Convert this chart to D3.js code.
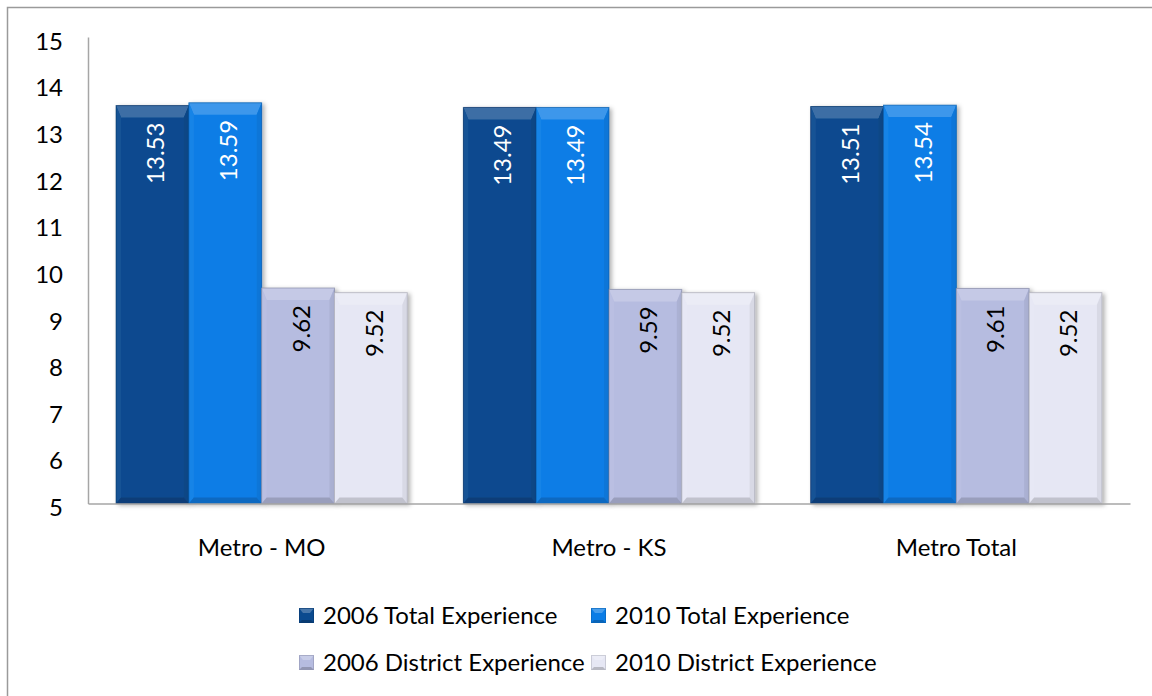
<!DOCTYPE html>
<html>
<head>
<meta charset="utf-8">
<script src="https://cdn.jsdelivr.net/npm/d3@7"></script>
<style>
  html, body { margin: 0; padding: 0; background: #fff; }
  svg { display: block; }
  text { font-family: Lato, "Open Sans", sans-serif; fill: #000; }
</style>
</head>
<body>
<svg id="chart" width="1152" height="696"></svg>
<script>
// Average years of experience by region
const categories = ["Metro - MO", "Metro - KS", "Metro Total"];
const seriesNames = ["2006 Total Experience", "2010 Total Experience", "2006 District Experience", "2010 District Experience"];
const total2006 = [13.53, 13.49, 13.51];
const total2010 = [13.59, 13.49, 13.54];
const district2006 = [9.62, 9.59, 9.61];
const district2010 = [9.52, 9.52, 9.52];
const yTicks = [5, 6, 7, 8, 9, 10, 11, 12, 13, 14, 15];

const seriesValues = [total2006, total2010, district2006, district2010];
const seriesColors = ["#0B4A8F", "#0B7DE6", "#B6BCE0", "#E6E7F4"];
const labelColors = ["#ffffff", "#ffffff", "#000000", "#000000"];

const W = 1152, H = 696;
const plot = { left: 88, right: 1130, top: 37, bottom: 503.5 };
const fs = 24;

const svg = d3.select("#chart");

// soft drop shadow for the bevelled bars
const defs = svg.append("defs");
const shadow = defs.append("filter").attr("id", "barShadow")
  .attr("x", "-10%").attr("y", "-10%").attr("width", "130%").attr("height", "130%");
shadow.append("feDropShadow").attr("dx", 2.5).attr("dy", 1.5)
  .attr("stdDeviation", 2).attr("flood-color", "#000").attr("flood-opacity", 0.3);

// chart frame
svg.append("rect").attr("x", 7.5).attr("y", 7.5).attr("width", W + 20).attr("height", H + 20)
  .attr("fill", "#fff").attr("stroke", "#9a9a9a").attr("stroke-width", 1.5);

const y = d3.scaleLinear().domain([5, 15]).range([plot.bottom, plot.top]);
const x0 = d3.scaleBand().domain(categories).range([plot.left, plot.right]).padding(0);
const x1 = d3.scaleBand().domain(seriesNames).range([0, x0.bandwidth()])
  .paddingInner(0).paddingOuter(0.385);

// y axis
const yAxis = svg.append("g").attr("transform", `translate(${plot.left},0)`)
  .call(d3.axisLeft(y).tickValues(yTicks).tickSize(0).tickSizeOuter(0).tickPadding(25));
yAxis.select(".domain").attr("stroke", "#a6a6a6").attr("stroke-width", 1.5);
yAxis.selectAll("text").attr("font-size", fs).attr("dy", null)
  .attr("y", 3.5 + 0.36 * fs).attr("font-family", "Lato").attr("fill", "#000");

// bars
const groups = svg.append("g").selectAll("g").data(categories).join("g")
  .attr("transform", d => `translate(${x0(d)},0)`);

function bevelBar(g, bx, by, bw, bh, color) {
  const base = d3.color(color);
  const light = d3.interpolateRgb(color, "#ffffff")(0.2);
  const lightSide = d3.interpolateRgb(color, "#ffffff")(0.05);
  const dark = d3.interpolateRgb(color, "#000000")(0.16);
  const darkSide = d3.interpolateRgb(color, "#000000")(0.06);
  const edge = d3.interpolateRgb(color, "#000000")(0.3);
  const t = 12, s = 5, b = 6;
  const x2 = bx + bw, y2 = by + bh;
  const bar = g.append("g").attr("filter", "url(#barShadow)");
  bar.append("rect").attr("x", bx).attr("y", by).attr("width", bw).attr("height", bh)
    .attr("fill", base.formatHex());
  const poly = (pts, fill) => bar.append("polygon")
    .attr("points", pts.map(p => p.join(",")).join(" ")).attr("fill", fill);
  poly([[bx, by], [x2, by], [x2 - s, by + t], [bx + s, by + t]], light);
  poly([[bx, by], [bx + s, by + t], [bx + s, y2 - b], [bx, y2]], lightSide);
  poly([[x2, by], [x2, y2], [x2 - s, y2 - b], [x2 - s, by + t]], darkSide);
  poly([[bx, y2], [bx + s, y2 - b], [x2 - s, y2 - b], [x2, y2]], dark);
  bar.append("rect").attr("x", bx).attr("y", by).attr("width", bw).attr("height", bh)
    .attr("fill", "none").attr("stroke", edge).attr("stroke-width", 1).attr("stroke-opacity", 0.6);
}

groups.each(function (cat, ci) {
  const g = d3.select(this);
  seriesNames.forEach((name, si) => {
    const v = seriesValues[si][ci];
    const bx = x1(name), bw = x1.bandwidth();
    const by = y(v), bh = y(5) - y(v);
    bevelBar(g, bx, by, bw, bh, seriesColors[si]);
    g.append("text")
      .attr("transform", `translate(${bx + bw / 2 + 3 + 0.36 * fs},${by + 17}) rotate(-90)`)
      .attr("text-anchor", "end")
      .attr("font-size", fs)
      .style("fill", labelColors[si])
      .text(v.toFixed(2));
  });
});

// x axis
const xAxis = svg.append("g").attr("transform", `translate(0,${plot.bottom})`)
  .call(d3.axisBottom(x0).tickSize(0).tickSizeOuter(0));
xAxis.select(".domain").attr("stroke", "#a6a6a6").attr("stroke-width", 1.5);
xAxis.selectAll("text").attr("font-size", fs).attr("dy", null).attr("y", 556 - plot.bottom)
  .attr("font-family", "Lato").attr("fill", "#000");

// legend
const legendItems = [
  { name: seriesNames[0], color: seriesColors[0], x: 299, y: 624 },
  { name: seriesNames[1], color: seriesColors[1], x: 591, y: 624 },
  { name: seriesNames[2], color: seriesColors[2], x: 299, y: 671 },
  { name: seriesNames[3], color: seriesColors[3], x: 591, y: 671 }
];
const legend = svg.append("g").selectAll("g").data(legendItems).join("g")
  .attr("transform", d => `translate(${d.x},${d.y})`);
function bevelSwatch(g, color) {
  const sz = 15, yTop = -16;
  const light = d3.interpolateRgb(color, "#ffffff")(0.25);
  const dark = d3.interpolateRgb(color, "#000000")(0.2);
  g.append("rect").attr("x", 0).attr("y", yTop).attr("width", sz).attr("height", sz).attr("fill", color);
  g.append("polygon").attr("points", `0,${yTop} ${sz},${yTop} ${sz - 4},${yTop + 5} 4,${yTop + 5}`).attr("fill", light);
  g.append("polygon").attr("points", `0,${yTop + sz} 3,${yTop + sz - 3} ${sz - 3},${yTop + sz - 3} ${sz},${yTop + sz}`).attr("fill", dark);
  g.append("rect").attr("x", 0.5).attr("y", yTop + 0.5).attr("width", sz - 1).attr("height", sz - 1)
    .attr("fill", "none").attr("stroke", dark).attr("stroke-width", 1).attr("stroke-opacity", 0.6);
}
legend.each(function (d) {
  bevelSwatch(d3.select(this), d.color);
});
legend.append("text").attr("x", 24).attr("y", 0).attr("font-size", fs).text(d => d.name);
</script>
</body>
</html>
